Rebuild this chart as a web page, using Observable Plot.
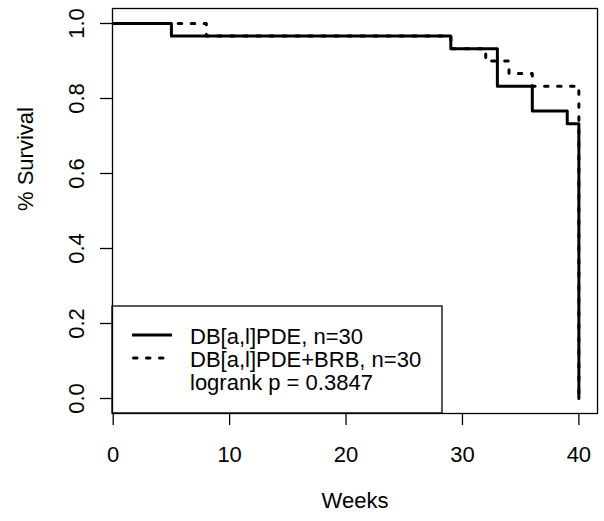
<!DOCTYPE html>
<html><head>
<meta charset="utf-8">
<script src="https://cdn.jsdelivr.net/npm/d3@7"></script>
<script src="https://cdn.jsdelivr.net/npm/@observablehq/plot@0.6"></script>
<style>body{margin:0;background:#fff;} svg{display:block;}</style>
</head><body><div id="chart"></div>
<script>
const weeksA = [0, 5, 29, 33, 36, 39, 40];
const survA  = [1, 0.967, 0.933, 0.833, 0.767, 0.733, 0];
const weeksB = [0, 8, 29, 32, 34, 36, 40];
const survB  = [1, 0.967, 0.933, 0.9, 0.867, 0.833, 0];
const xTicks = [0, 10, 20, 30, 40];
const yTicks = [0, 0.2, 0.4, 0.6, 0.8, 1.0];
const legendLabels = ["DB[a,l]PDE, n=30", "DB[a,l]PDE+BRB, n=30", "logrank p = 0.3847"];
const xTitle = "Weeks";
const yTitle = "% Survival";

const seriesA = weeksA.map((w, i) => ({week: w, surv: survA[i]}));
const seriesB = weeksB.map((w, i) => ({week: w, surv: survB[i]}));
const FONT = "'Liberation Sans', Arial, sans-serif";
const DASH = "3.5,9.5";

function legend(index, scales, values, dims) {
  const g = d3.create("svg:g").attr("font-family", FONT).attr("font-size", 22).attr("text-anchor", "start");
  const x0 = dims.marginLeft;
  const yb = dims.height - dims.marginBottom;
  g.append("rect").attr("x", x0).attr("y", yb - 107).attr("width", 330).attr("height", 107)
    .attr("fill", "white").attr("stroke", "black").attr("stroke-width", 1.3);
  const base = [yb - 69, yb - 46, yb - 23];
  g.append("line").attr("x1", x0 + 20).attr("x2", x0 + 60).attr("y1", base[0] - 9).attr("y2", base[0] - 9)
    .attr("stroke", "black").attr("stroke-width", 3);
  g.append("line").attr("x1", x0 + 21.5).attr("x2", x0 + 60).attr("y1", base[1] - 9).attr("y2", base[1] - 9)
    .attr("stroke", "black").attr("stroke-width", 3).attr("stroke-dasharray", DASH).attr("stroke-linecap", "round");
  legendLabels.forEach((t, i) => {
    g.append("text").attr("x", x0 + 78).attr("y", base[i]).attr("fill", "black")
      .attr("text-anchor", "start").text(t);
  });
  return g.node();
}

const chart = Plot.plot({
  width: 604, height: 521,
  marginLeft: 112, marginTop: 8, marginRight: 7, marginBottom: 108,
  style: {fontFamily: FONT, fontSize: "22px", background: "white", color: "black"},
  x: {domain: [-0.06, 41.6]},
  y: {domain: [-0.04, 1.04]},
  marks: [
    Plot.axisX({ticks: xTicks, tickSize: 12, tickPadding: 21, fontSize: 22, label: null, tickFormat: d => String(d), strokeWidth: 1.3}),
    Plot.axisY({ticks: yTicks, tickSize: 12, tickPadding: 17, fontSize: 22, label: null, tickRotate: -90, tickFormat: d3.format(".1f"), strokeWidth: 1.3}),
    Plot.text([xTitle], {frameAnchor: "bottom", dy: 94, fontSize: 22, text: d => d}),
    Plot.text([yTitle], {frameAnchor: "left", dx: -87, rotate: -90, fontSize: 22, text: d => d}),
    Plot.line(seriesB, {x: "week", y: "surv", curve: "step-after", stroke: "black", strokeWidth: 3, strokeDasharray: DASH, strokeLinecap: "round"}),
    Plot.line(seriesA, {x: "week", y: "surv", curve: "step-after", stroke: "black", strokeWidth: 3}),
    legend,
    Plot.frame({stroke: "black", strokeWidth: 1.3})
  ]
});
document.getElementById("chart").append(chart);
</script>
</body></html>
